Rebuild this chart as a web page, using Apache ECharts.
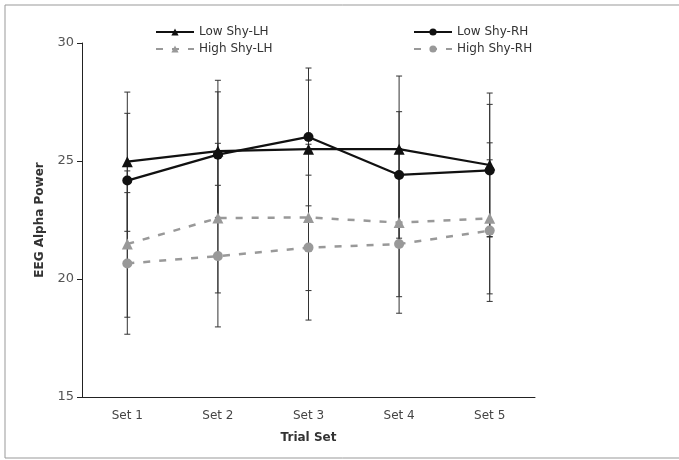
<!DOCTYPE html>
<html><head><meta charset="utf-8">
<script src="https://cdn.jsdelivr.net/npm/echarts@6/dist/echarts.min.js"></script>
<style>html,body{margin:0;padding:0;background:#fff}#c{width:679px;height:460px}</style>
</head><body><div id="c"></div>
<script>
const categories = ['Set 1', 'Set 2', 'Set 3', 'Set 4', 'Set 5'];
const yTicks = [15, 20, 25, 30];
const lowShyLH = [24.97, 25.42, 25.5, 25.5, 24.83];
const lowShyLHErr = [2.95, 3.0, 2.93, 3.1, 3.05];
const lowShyRH = [24.17, 25.27, 26.02, 24.41, 24.6];
const lowShyRHErr = [2.85, 2.66, 2.92, 2.68, 2.8];
const highShyLH = [21.48, 22.58, 22.61, 22.39, 22.57];
const highShyLHErr = [3.1, 3.17, 3.1, 3.14, 3.2];
const highShyRH = [20.66, 20.97, 21.33, 21.48, 22.05];
const highShyRHErr = [3.0, 3.0, 3.07, 2.93, 3.0];

const FONT = 'DejaVu Sans';
const chart = echarts.init(document.getElementById('c'), null, {renderer: 'canvas'});

function errData(vals, errs) {
  return vals.map((v, i) => [i, v - errs[i], v + errs[i]]);
}
function errSeries(vals, errs, color) {
  return {
    type: 'custom', silent: true, z: 1,
    data: errData(vals, errs),
    encode: {x: 0, y: [1, 2]},
    renderItem: function (params, api) {
      const x = api.value(0);
      const lo = api.coord([x, api.value(1)]);
      const hi = api.coord([x, api.value(2)]);
      const hw = 3;
      const st = {stroke: color, lineWidth: 1};
      return {type: 'group', children: [
        {type: 'line', shape: {x1: lo[0], y1: lo[1], x2: hi[0], y2: hi[1]}, style: st},
        {type: 'line', shape: {x1: lo[0] - hw, y1: lo[1], x2: lo[0] + hw, y2: lo[1]}, style: st},
        {type: 'line', shape: {x1: hi[0] - hw, y1: hi[1], x2: hi[0] + hw, y2: hi[1]}, style: st}
      ]};
    }
  };
}
function lineSeries(name, vals, color, dashed, symbol, size) {
  return {
    name: name, type: 'line', data: vals, z: 3,
    symbol: symbol, symbolSize: size,
    lineStyle: {color: color, width: dashed ? 2.5 : 2.2, type: dashed ? [7, 9] : 'solid'},
    itemStyle: {color: color, borderWidth: 0},
    emphasis: {disabled: true}
  };
}
function legend(name, left, top) {
  return {
    data: [name], left: left, top: top, itemWidth: 38, itemHeight: 9, itemGap: 4,
    textStyle: {fontFamily: FONT, fontSize: 12, color: '#333'}, selectedMode: false
  };
}

chart.setOption({
  animation: false,
  backgroundColor: '#fff',
  graphic: [{type: 'rect', shape: {x: 5, y: 5, width: 700, height: 453},
    style: {fill: 'none', stroke: '#999', lineWidth: 1}, silent: true}],
  legend: [
    legend('Low Shy-LH', 150, 21),
    legend('Low Shy-RH', 408, 21),
    legend('High Shy-LH', 150, 38),
    legend('High Shy-RH', 408, 38)
  ],
  grid: {left: 82, right: 144, top: 43, bottom: 63},
  xAxis: {
    type: 'category', data: categories, boundaryGap: true,
    name: 'Trial Set', nameLocation: 'middle', nameGap: 35,
    nameTextStyle: {fontFamily: FONT, fontSize: 12, fontWeight: 'bold', color: '#333'},
    axisLine: {lineStyle: {color: '#222', width: 1}},
    axisTick: {show: false},
    axisLabel: {fontFamily: FONT, fontSize: 12, color: '#444', margin: 13}
  },
  yAxis: {
    type: 'value', min: yTicks[0], max: yTicks[yTicks.length - 1], interval: 5,
    name: 'EEG Alpha Power', nameLocation: 'middle', nameGap: 36,
    nameTextStyle: {fontFamily: FONT, fontSize: 12, fontWeight: 'bold', color: '#333'},
    axisLine: {show: true, lineStyle: {color: '#222', width: 1}},
    axisTick: {show: true, length: 5, lineStyle: {color: '#222'}},
    splitLine: {show: false},
    axisLabel: {fontFamily: FONT, fontSize: 13, color: '#555', margin: 8}
  },
  series: [
    errSeries(highShyLH, highShyLHErr, '#333'),
    errSeries(highShyRH, highShyRHErr, '#333'),
    errSeries(lowShyLH, lowShyLHErr, '#333'),
    errSeries(lowShyRH, lowShyRHErr, '#333'),
    lineSeries('High Shy-LH', highShyLH, '#999', true, 'triangle', 11),
    lineSeries('High Shy-RH', highShyRH, '#999', true, 'circle', 10),
    lineSeries('Low Shy-LH', lowShyLH, '#111', false, 'triangle', 11),
    lineSeries('Low Shy-RH', lowShyRH, '#111', false, 'circle', 10)
  ]
});
</script></body></html>
